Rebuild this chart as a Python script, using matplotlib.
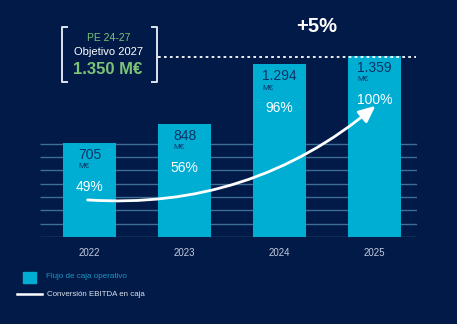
import matplotlib
matplotlib.use("Agg")
import matplotlib.pyplot as plt
from matplotlib.lines import Line2D
from matplotlib.patches import Rectangle

# data
years = ["2022", "2023", "2024", "2025"]
cash_flow = [705, 848, 1294, 1359]          # M€
cash_labels = ["705", "848", "1.294", "1.359"]
conversion = ["49%", "56%", "96%", "100%"]
target_2027 = 1350
target_labels = ["PE 24-27", "Objetivo 2027", "1.350 M€"]
growth_label = "+5%"
legend_labels = ["Flujo de caja operativo", "Conversión EBITDA en caja"]

BG = "#021a47"
BAR = "#00aed4"
DARK_TXT = "#0d3366"
GRID = "#3f6e99"
GREEN = "#7cc576"
W, H = 457, 324

plt.rcParams["font.family"] = ["Liberation Sans", "DejaVu Sans"]

fig = plt.figure(figsize=(W / 100, H / 100), dpi=100, facecolor=BG)
ax = fig.add_axes([40 / W, 87 / H, 377 / W, 200 / H])
ax.set_facecolor(BG)
ax.set_xlim(-0.521, 3.447)
ax.set_ylim(0, 1500)
for s in ax.spines.values():
    s.set_visible(False)

# horizontal guide lines behind the bars
ax.hlines(range(0, 800, 100), -0.521, 3.447, color=GRID, lw=1.0, zorder=1)

x = list(range(len(years)))
bars = ax.bar(x, cash_flow, width=0.56, color=BAR, zorder=2)

ax.set_xticks(x)
ax.set_xticklabels(years, color="#c3cbdd", fontsize=7)
ax.tick_params(axis="x", length=0, pad=8)
ax.set_yticks([])

# target dotted line
ax.hlines(target_2027, 0.72, 3.44, color="white", lw=1.3, linestyles=(0, (1.5, 1.8)), zorder=3)

# bar labels
num_texts = []
for xi, v, lab, pct in zip(x, cash_flow, cash_labels, conversion):
    t = ax.annotate(lab, (xi, v), xytext=(0, -12), textcoords="offset pixels",
                    ha="center", va="center", color=DARK_TXT, fontsize=10, zorder=4)
    num_texts.append(t)
    ax.annotate(pct, (xi, v), xytext=(0, -44), textcoords="offset pixels",
                ha="center", va="center", color="white", fontsize=10, zorder=4)

fig.canvas.draw()
inv = ax.transData.inverted()
for t, xi, v in zip(num_texts, x, cash_flow):
    bb = t.get_window_extent()
    x0 = inv.transform((bb.x0, 0))[0]
    ax.annotate("M€", (x0, v), xytext=(0.5, -24), textcoords="offset pixels",
                ha="left", va="center", color=DARK_TXT, fontsize=5.8, zorder=4)

# conversion arrow
ax.annotate("", xy=(3.01, 984), xytext=(-0.02, 278),
            arrowprops=dict(arrowstyle="-|>,head_length=1.0,head_width=0.45",
                            connectionstyle="arc3,rad=0.2", color="white", lw=2.0,
                            shrinkA=0, shrinkB=0), zorder=5)


def fx(px):
    return px / W


def fy(py):
    return 1 - py / H


# bracket box with the 2027 target
bc = "#dfe5ef"
for xb, d in [(62, 1), (157, -1)]:
    fig.add_artist(Line2D([fx(xb + 5 * d), fx(xb), fx(xb), fx(xb + 5 * d)],
                          [fy(27), fy(27), fy(82), fy(82)], color=bc, lw=1.4))
fig.text(fx(109), fy(38), target_labels[0], color=GREEN, fontsize=7.5, ha="center", va="center")
fig.text(fx(109), fy(52), target_labels[1], color="white", fontsize=8, ha="center", va="center")
fig.text(fx(108), fy(70), target_labels[2], color=GREEN, fontsize=12, fontweight="bold",
         ha="center", va="center")

fig.text(fx(317), fy(27), growth_label, color="white", fontsize=14.5, fontweight="bold",
         ha="center", va="center")

# legend drawn by hand
fig.add_artist(Rectangle((fx(23), fy(283)), 13 / W, 11 / H, color=BAR, transform=fig.transFigure))
fig.text(fx(46), fy(277), legend_labels[0], color="#1c97c6", fontsize=5.8, ha="left", va="center")
fig.add_artist(Line2D([fx(17), fx(42)], [fy(294), fy(294)], color="white", lw=1.8))
fig.text(fx(47), fy(294), legend_labels[1], color="#dde3ee", fontsize=5.7, ha="left", va="center")

fig.savefig("out.png", dpi=100, facecolor=BG)
